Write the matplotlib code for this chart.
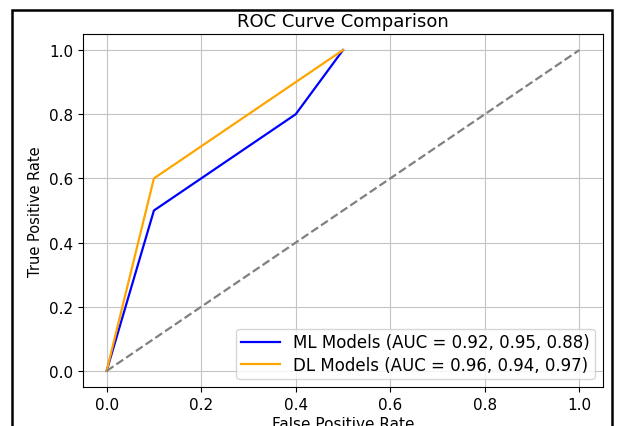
import matplotlib.pyplot as plt
from matplotlib.patches import Rectangle

# ROC points
ml_fpr = [0.0, 0.1, 0.4, 0.5]
ml_tpr = [0.0, 0.5, 0.8, 1.0]
dl_fpr = [0.0, 0.1, 0.4, 0.5]
dl_tpr = [0.0, 0.6, 0.9, 1.0]
diag = [0.0, 1.0]

ml_label = "ML Models (AUC = 0.92, 0.95, 0.88)"
dl_label = "DL Models (AUC = 0.96, 0.94, 0.97)"

W, H = 618, 427
fig = plt.figure(figsize=(W / 100, H / 100), dpi=100)
ax = fig.add_axes([83 / W, 1 - 388 / H, (603 - 83) / W, (388 - 35) / H])

ax.plot(ml_fpr, ml_tpr, color='blue', lw=1.6, label=ml_label)
ax.plot(dl_fpr, dl_tpr, color='orange', lw=1.6, label=dl_label)
ax.plot(diag, diag, color='gray', lw=1.6, linestyle='--')

ax.set_xlim(-0.05, 1.05)
ax.set_ylim(-0.05, 1.05)
ax.tick_params(labelsize=11)
ax.set_xlabel("False Positive Rate", fontsize=11, labelpad=3)
ax.set_ylabel("True Positive Rate", fontsize=10.5)
ax.set_title("ROC Curve Comparison", fontsize=13, pad=6)
ax.grid(True, color='#c4c4c4')
ax.legend(loc='lower right', fontsize=12, handlelength=2.3,
          labelspacing=0.25, borderpad=0.3)

# black border around the screenshot (bottom edge is cut off)
fig.patches.append(Rectangle((12 / W, -0.1), (612 - 12) / W, 1 - 11 / H + 0.1,
                             transform=fig.transFigure, fill=False,
                             edgecolor='black', linewidth=1.8))

fig.savefig("out.png", dpi=100)
